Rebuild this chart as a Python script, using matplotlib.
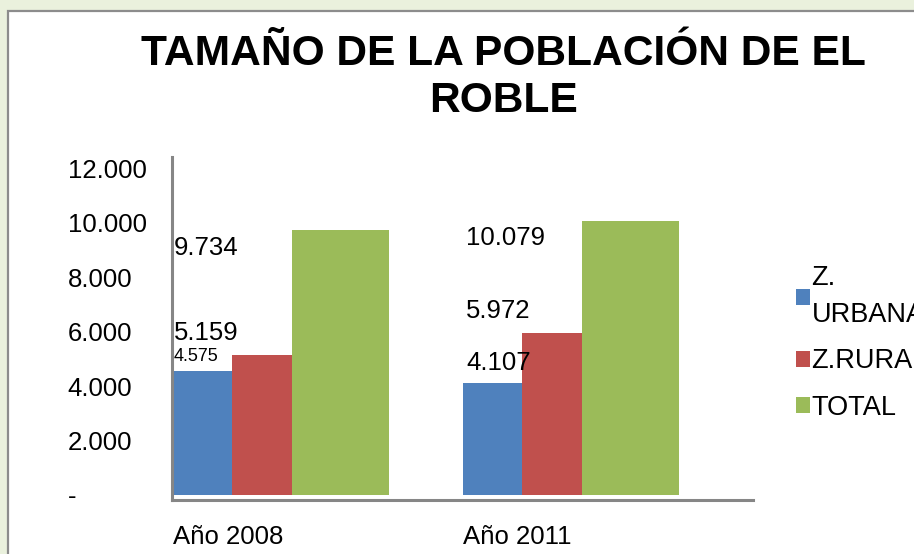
import matplotlib
matplotlib.use("Agg")
import matplotlib.pyplot as plt
from matplotlib.patches import Rectangle
import numpy as np

# ---- data ----
categories = ["Año 2008", "Año 2011"]
series_names = ["Z.\nURBANA", "Z.RURAL", "TOTAL"]
urbana = [4575, 4107]
rural = [5159, 5972]
total = [9734, 10079]
urbana_labels = ["4.575", "4.107"]
rural_labels = ["5.159", "5.972"]
total_labels = ["9.734", "10.079"]
ytick_values = [0, 2000, 4000, 6000, 8000, 10000, 12000]
ytick_labels = ["-", "2.000", "4.000", "6.000", "8.000", "10.000", "12.000"]

# ---- style ----
W, H, DPI = 914, 554, 100
FONT = "Liberation Sans"
plt.rcParams["font.family"] = [FONT, "DejaVu Sans"]
colors = ["#4F81BD", "#C0504D", "#9BBB59"]
bar_widths = [0.2034, 0.2069, 0.3345]
bar_offsets = [0.0, 0.2034, 0.4103]
axis_gray = "#868686"

fig = plt.figure(figsize=(W / DPI, H / DPI), dpi=DPI, facecolor="#EAF1DD")

# white panel with grey border
fig.patches.append(Rectangle((8 / W, -0.1), 1.2, 1 - 11 / H + 0.1,
                             transform=fig.transFigure, facecolor="white",
                             edgecolor="#8C8C8C", linewidth=1.6, zorder=-5))

ax = fig.add_axes([172 / W, (H - 500) / H, (753 - 172) / W, (500 - 157) / H])
ax.set_zorder(2)
ax.set_facecolor("none")

x = np.arange(len(categories))
bars = []
for k, vals in enumerate([urbana, rural, total]):
    b = ax.bar(x + bar_offsets[k], vals, width=bar_widths[k], align="edge",
               color=colors[k], label=series_names[k], zorder=2)
    bars.append(b)

ax.set_xlim(-0.0034, 2.0)
ax.set_ylim(-184, 12426)

for s in ["top", "right"]:
    ax.spines[s].set_visible(False)
for s in ["left", "bottom"]:
    ax.spines[s].set_color(axis_gray)
    ax.spines[s].set_linewidth(2.2)

ax.set_yticks(ytick_values)
ax.set_yticklabels(ytick_labels, fontsize=18.5, ha="left")
ax.tick_params(axis="y", length=0, pad=75)
ax.set_xticks(x)
ax.set_xticklabels(categories, fontsize=18.5, ha="left")
ax.tick_params(axis="x", length=0, pad=18)

# data labels
lbl_x_shift = [0.003, 0.01]
for i in range(len(categories)):
    ax.annotate(total_labels[i], xy=(x[i] + lbl_x_shift[i], total[i]),
                xytext=(0, -12.5), textcoords="offset points",
                ha="left", va="center", fontsize=18.5)
    ax.annotate(rural_labels[i], xy=(x[i] + lbl_x_shift[i], rural[i]),
                xytext=(0, 15.5), textcoords="offset points",
                ha="left", va="center", fontsize=18.5)
urb_sizes = [13, 18.5]
urb_off = [10, 14.5]
for i in range(len(categories)):
    ax.annotate(urbana_labels[i], xy=(x[i] + lbl_x_shift[i], urbana[i]),
                xytext=(0, urb_off[i]), textcoords="offset points",
                ha="left", va="center", fontsize=urb_sizes[i])

# title
fig.text(503 / W, 1 - 112 / H, "TAMAÑO DE LA POBLACIÓN DE EL\nROBLE",
         ha="center", va="baseline", fontsize=30.6, fontweight="bold",
         multialignment="center", linespacing=1.22)

# legend
handles = [b.patches[0] for b in bars]
leg = fig.legend(handles, series_names, loc="upper left",
                 bbox_to_anchor=(796 / W, 1 - 265 / H), frameon=False,
                 fontsize=19.5, handlelength=0.52, handleheight=0.52,
                 handletextpad=0.05, borderpad=0, borderaxespad=0,
                 labelspacing=0.75)
leg.get_texts()[0].set_linespacing(1.55)

fig.savefig("out.png", dpi=DPI, facecolor=fig.get_facecolor())
